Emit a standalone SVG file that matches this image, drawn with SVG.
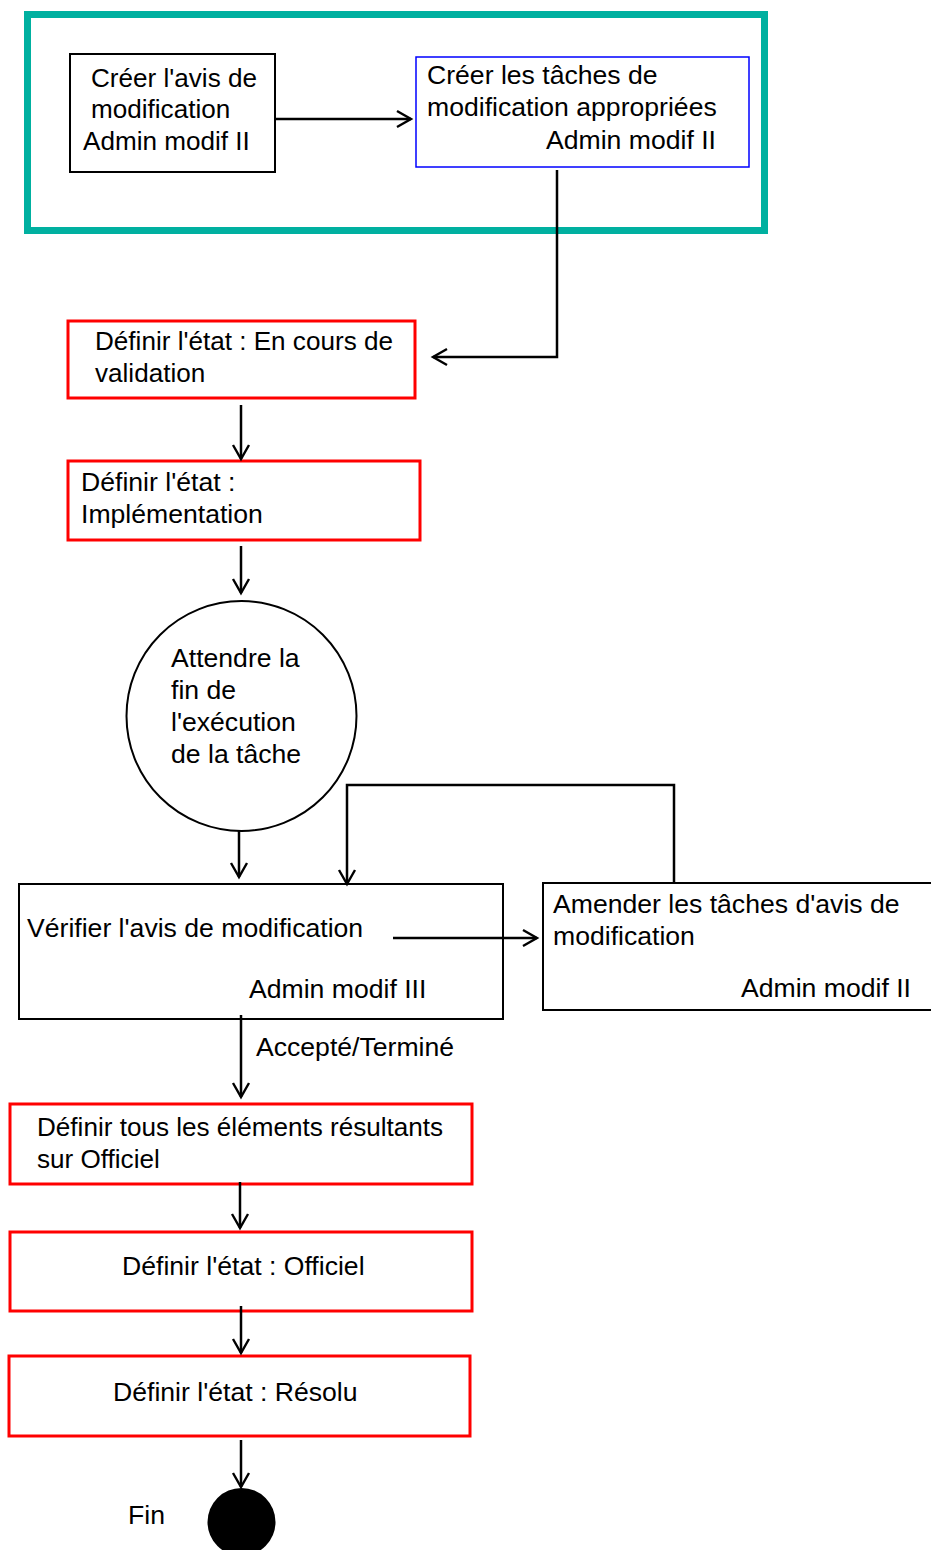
<svg xmlns="http://www.w3.org/2000/svg" width="931" height="1550" viewBox="0 0 931 1550">
<style>
text{font-family:"Liberation Sans",Arial,sans-serif;font-size:26.6px;fill:#000}
.s26 text{font-size:26.1px}
.blk{fill:#fff;stroke:#000;stroke-width:2}
.red{fill:#fff;stroke:#ff0000;stroke-width:3}
.blu{fill:#fff;stroke:#0000ff;stroke-width:1.5}
.con{fill:none;stroke:#000;stroke-width:2.5}
.end{text-anchor:end}
</style>
<defs>
<marker id="arr" markerUnits="userSpaceOnUse" viewBox="-16 -10 20 20" markerWidth="20" markerHeight="20" refX="0" refY="0" orient="auto">
<path d="M-14,-8 L0,0 L-14,8" fill="none" stroke="#000" stroke-width="2.4"/>
</marker>
</defs>
<rect width="931" height="1550" fill="#fff"/>
<g id="frame"><rect x="27.5" y="14.5" width="737" height="216" fill="none" stroke="#00B0A0" stroke-width="7"/></g>
<g id="n1" class="s26"><rect class="blk" x="70" y="54" width="205" height="118"/>
<text x="91" y="87">Créer l'avis de</text><text x="91" y="118">modification</text><text x="83" y="150">Admin modif II</text></g>
<g id="n2"><rect class="blu" x="416" y="57" width="333" height="110"/>
<text x="427" y="84">Créer les tâches de</text><text x="427" y="116">modification appropriées</text><text class="end" x="716" y="149">Admin modif II</text></g>
<g id="n3" class="s26"><rect class="red" x="68" y="321" width="347" height="77"/>
<text x="95" y="350">Définir l'état : En cours de</text><text x="95" y="382">validation</text></g>
<g id="n4"><rect class="red" x="68" y="461" width="352" height="79"/>
<text x="81" y="491">Définir l'état :</text><text x="81" y="523">Implémentation</text></g>
<g id="n5"><circle cx="241.5" cy="716" r="115" fill="#fff" stroke="#000" stroke-width="2"/>
<text x="171" y="667">Attendre la</text><text x="171" y="699">fin de</text><text x="171" y="731">l'exécution</text><text x="171" y="763">de la tâche</text></g>
<g id="n6"><rect class="blk" x="19" y="884" width="484" height="135"/>
<text x="27" y="937">Vérifier l'avis de modification</text><text x="249" y="998">Admin modif III</text></g>
<g id="n7"><rect class="blk" x="543" y="883" width="400" height="127"/>
<text x="553" y="913">Amender les tâches d'avis de</text><text x="553" y="945">modification</text><text class="end" x="911" y="997">Admin modif II</text></g>
<g id="n8" class="s26"><rect class="red" x="10" y="1104" width="462" height="80"/>
<text x="37" y="1136">Définir tous les éléments résultants</text><text x="37" y="1168">sur Officiel</text></g>
<g id="n9"><rect class="red" x="10" y="1232" width="462" height="79"/>
<text x="122" y="1275">Définir l'état : Officiel</text></g>
<g id="n10"><rect class="red" x="9" y="1356" width="461" height="80"/>
<text x="113" y="1401">Définir l'état : Résolu</text></g>
<g id="n11"><circle cx="241.5" cy="1522" r="34" fill="#000"/><text x="128" y="1524">Fin</text></g>
<g id="connectors">
<path class="con" d="M275,119 H411" marker-end="url(#arr)"/>
<path class="con" d="M557,170 V357 H433" marker-end="url(#arr)"/>
<path class="con" d="M241,405 V459" marker-end="url(#arr)"/>
<path class="con" d="M241,546 V593" marker-end="url(#arr)"/>
<path class="con" d="M239,831 V877" marker-end="url(#arr)"/>
<path class="con" d="M674,883 V785 H347 V884" marker-end="url(#arr)"/>
<path class="con" d="M393,938 H537" marker-end="url(#arr)"/>
<path class="con" d="M241,1015 V1097" marker-end="url(#arr)"/>
<text x="256" y="1056">Accepté/Terminé</text>
<path class="con" d="M240,1182 V1228" marker-end="url(#arr)"/>
<path class="con" d="M241,1306 V1353" marker-end="url(#arr)"/>
<path class="con" d="M241,1440 V1487" marker-end="url(#arr)"/>
</g>
</svg>
